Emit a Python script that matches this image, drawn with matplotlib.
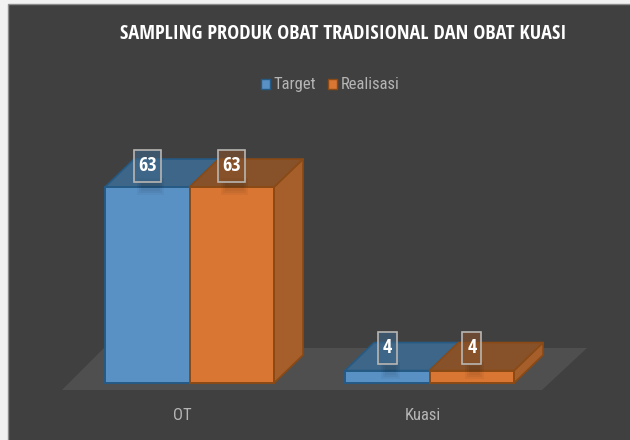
import numpy as np
import matplotlib.pyplot as plt
from matplotlib.patches import Polygon, Rectangle

categories = ['OT', 'Kuasi']
series_names = ['Target', 'Realisasi']
target = [63, 4]
realisasi = [63, 4]

W, H = 630, 440
px_x = 240.0   # pixels per category
px_y = 3.11    # pixels per unit of value
x0 = 189.5     # pixel of first category
y0 = 383.0     # pixel of value 0
bar_w = 84.5 / px_x
dx = 29 / px_x  # depth of the boxes
dy = 28 / px_y

plt.rcParams['font.family'] = ['Roboto Condensed', 'DejaVu Sans']
bold_font = ['Open Sans Condensed', 'DejaVu Sans']

fig = plt.figure(figsize=(W / 100, H / 100), dpi=100, facecolor='#f2f2f2')
ax = fig.add_axes([0, 0, 1, 1])
ax.set_xlim(-x0 / px_x, (W - x0) / px_x)
ax.set_ylim((y0 - H) / px_y, y0 / px_y)
ax.axis('off')


def X(p):
    return (p - x0) / px_x


def Y(p):
    return (y0 - p) / px_y


# chart background
ax.add_patch(Rectangle((X(8), Y(H + 5)), (W + 5 - 8) / px_x, (H + 5 - 4) / px_y,
                       fc='#404040', ec='#8c8c8c', lw=1, zorder=0))

# floor
floor = [(X(62), Y(390)), (X(542), Y(390)), (X(587), Y(348)), (X(104), Y(348))]
ax.add_patch(Polygon(floor, closed=True, fc='#504f4f', ec='none', zorder=1))


def box(x, v, front, side, top, edge, z):
    l, r = x, x + bar_w
    ax.add_patch(Polygon([(r, 0), (r + dx, dy), (r + dx, v + dy), (r, v)],
                         fc=side, ec=edge, lw=1.2, joinstyle='round', zorder=z))
    ax.add_patch(Polygon([(l, v), (r, v), (r + dx, v + dy), (l + dx, v + dy)],
                         fc=top, ec=edge, lw=1.2, joinstyle='round', zorder=z))
    ax.add_patch(Rectangle((l, 0), bar_w, v, fc=front, ec=edge, lw=1.4, zorder=z + 1))


def label(xc, v, top_col):
    cy = v + 21.5 / px_y + (1.5 / px_y if v < 10 else 0)
    w = (27 if v >= 10 else 19) / px_x
    h = 32 / px_y
    # soft shadow under the label
    for k in range(3):
        ax.add_patch(Rectangle((xc - w / 2 + (3 + k * 2) / px_x, v - (8 - k * 2) / px_y),
                               w - (4 * k) / px_x, (8 - k * 2) / px_y,
                               fc='black', alpha=0.04, ec='none', zorder=7))
        ax.add_patch(Rectangle((xc - w / 2 + (3 + k * 2) / px_x, v),
                               w - (4 * k) / px_x, (9 - k * 2) / px_y,
                               fc='black', alpha=0.05, ec='none', zorder=7))
    ax.add_patch(Rectangle((xc - w / 2, cy - h / 2), w, h, fc=top_col, alpha=0.6,
                           ec='none', zorder=8))
    ax.add_patch(Rectangle((xc - w / 2, cy - h / 2), w, h, fill=False,
                           ec='#b9b6b3', lw=1.2, zorder=9))
    ax.text(xc, cy, str(v), color='white', fontsize=14.5, fontweight='bold', family=bold_font,
            ha='center', va='center', zorder=10)


blue = dict(front='#5a91c5', side='#3f6d96', top='#3d6688', edge='#255a85')
orange = dict(front='#d97634', side='#a65e2b', top='#875229', edge='#8a4a16')

for i in range(len(categories)):
    box(i - bar_w, target[i], z=3, **blue)
for i in range(len(categories)):
    box(i, realisasi[i], z=5, **orange)
for i in range(len(categories)):
    label(i - bar_w / 2, target[i], blue['top'])
    label(i + bar_w / 2, realisasi[i], orange['top'])
    ax.text(i - 7 / px_x, Y(415), categories[i], color='#b5b5b5', fontsize=12,
            ha='center', va='center', zorder=10)

# title and legend
ax.text(X(343), Y(34), 'SAMPLING PRODUK OBAT TRADISIONAL DAN OBAT KUASI', color='white',
        fontsize=14.6, fontweight='bold', family=bold_font, ha='center', va='center', zorder=10)

ax.add_patch(Rectangle((X(261), Y(89)), 9 / px_x, 10 / px_y, fc=blue['front'], ec=blue['edge'], lw=1, zorder=10))
ax.text(X(273), Y(84), series_names[0], color='#b5b5b5', fontsize=12, ha='left', va='center', zorder=10)
ax.add_patch(Rectangle((X(328), Y(89)), 9 / px_x, 10 / px_y, fc=orange['front'], ec=orange['edge'], lw=1, zorder=10))
ax.text(X(341), Y(84), series_names[1], color='#b5b5b5', fontsize=12, ha='left', va='center', zorder=10)

fig.savefig('out.png', dpi=100, facecolor=fig.get_facecolor())
